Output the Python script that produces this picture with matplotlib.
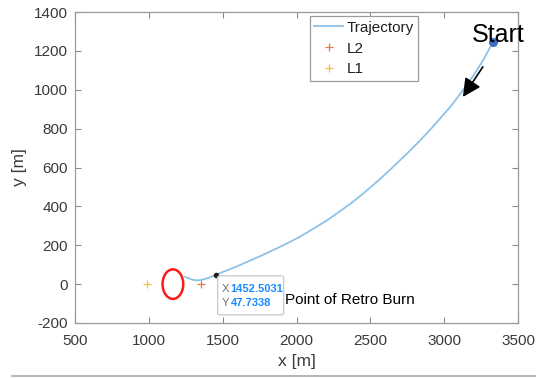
import matplotlib
matplotlib.use("Agg")
import matplotlib.pyplot as plt
import matplotlib.patches as mpatches
import matplotlib.transforms as mtransforms
from matplotlib.lines import Line2D

plt.rcParams['font.family'] = ['Liberation Sans', 'DejaVu Sans']
plt.rcParams['axes.unicode_minus'] = False

# Data
traj_x = [1245, 1270, 1300, 1330, 1370, 1410, 1452.5031, 1500, 1560, 1620, 1685, 1760, 1850, 1940,
          2023, 2110, 2200, 2280, 2362, 2450, 2550, 2650, 2746, 2820, 2900, 2970, 3050, 3120,
          3200, 3270, 3330]
traj_y = [38, 30, 22, 19, 24, 34, 47.7338, 62, 80, 99, 121, 146, 178, 211,
          244, 283, 325, 367, 412, 465, 530, 600, 670, 726, 790, 850, 920, 990,
          1075, 1160, 1245]
start_pt = (3330, 1245)
burn_pt = (1452.5031, 47.7338)
L2_pt = (1350, 0)
L1_pt = (990, 0)
circle_center = (1163, 0)
xticks = [500, 1000, 1500, 2000, 2500, 3000, 3500]
yticks = [-200, 0, 200, 400, 600, 800, 1000, 1200, 1400]

fig = plt.figure(figsize=(5.36, 3.78), dpi=100)
ax = fig.add_axes([75/536, 1-323/378, (518-75)/536, (323-12)/378])

traj_col = '#8cc2ea'
ax.plot(traj_x, traj_y, color=traj_col, lw=1.3, label='Trajectory', zorder=3,
        solid_joinstyle='round')
ax.plot(*L2_pt, marker='+', ls='none', color='#e07a50', ms=6, mew=0.9, label='L2')
ax.plot(*L1_pt, marker='+', ls='none', color='#f0c050', ms=6, mew=0.9, label='L1')
ax.plot(*start_pt, marker='o', color='#3d6cc4', ms=5.5, zorder=5)
ax.plot(*burn_pt, marker='o', color='#202020', ms=3, zorder=6)

ax.add_patch(mpatches.Ellipse(circle_center, 140, 152, fill=False, ec='#ff1a1a', lw=1.8, zorder=4))

ax.annotate('', xy=(3127, 963), xytext=(3262, 1118),
            arrowprops=dict(arrowstyle='-|>,head_length=1.1,head_width=0.55', color='black', lw=1.2,
                            shrinkA=0, shrinkB=0), zorder=6)

ax.text(3188, 1245, 'Start', fontsize=18, ha='left', va='baseline', color='black', zorder=7)
ax.text(1922, -82, 'Point of Retro Burn', fontsize=11, ha='left', va='center', color='black')

# data tip box
tr = mtransforms.Affine2D() + mtransforms.ScaledTranslation(burn_pt[0], burn_pt[1], ax.transData)
box = mpatches.FancyBboxPatch((2, -40), 66, 39, boxstyle='round,pad=0,rounding_size=2',
                              transform=tr, fc='white', ec='#c8c8c8', lw=0.9, zorder=8, clip_on=False)
ax.add_patch(box)
for dy, lab, val in [(-14, 'X', f'{burn_pt[0]:.4f}'), (-28, 'Y', f'{burn_pt[1]:.4f}')]:
    ax.annotate(lab, xy=burn_pt, xytext=(6, dy), textcoords='offset pixels', fontsize=8,
                color='#707070', ha='left', va='center', zorder=9)
    ax.annotate(val, xy=burn_pt, xytext=(15, dy), textcoords='offset pixels', fontsize=8,
                color='#1a8cff', fontweight='bold', ha='left', va='center', zorder=9)

ax.set_xlim(500, 3500)
ax.set_ylim(-200, 1400)
ax.set_xticks(xticks)
ax.set_yticks(yticks)
ax.tick_params(direction='in', top=True, right=True, length=4, width=0.8, color='#8a8a8a',
               labelsize=11, labelcolor='#3a3a3a')
ax.tick_params(axis='x', pad=8)
ax.tick_params(axis='y', pad=5)
for s in ax.spines.values():
    s.set_color('#9a9a9a')
    s.set_linewidth(0.9)
ax.set_xlabel('x [m]', fontsize=12.5, color='#3a3a3a', labelpad=4)
ax.set_ylabel('y [m]', fontsize=12.5, color='#3a3a3a', labelpad=5)

leg = ax.legend(loc='upper left', bbox_to_anchor=(0.530, 0.987), borderaxespad=0, fontsize=11,
                handlelength=1.9, handletextpad=0.2, borderpad=0.3, labelspacing=0.45,
                fancybox=False, edgecolor='#9a9a9a', framealpha=1)
leg.get_frame().set_linewidth(0.9)
for t in leg.get_texts():
    t.set_color('#202020')

fig.add_artist(Line2D([12/536, 1.0], [1-376/378, 1-376/378], color='#a8a8a8', lw=1.2))

fig.savefig('out.png', dpi=100)
